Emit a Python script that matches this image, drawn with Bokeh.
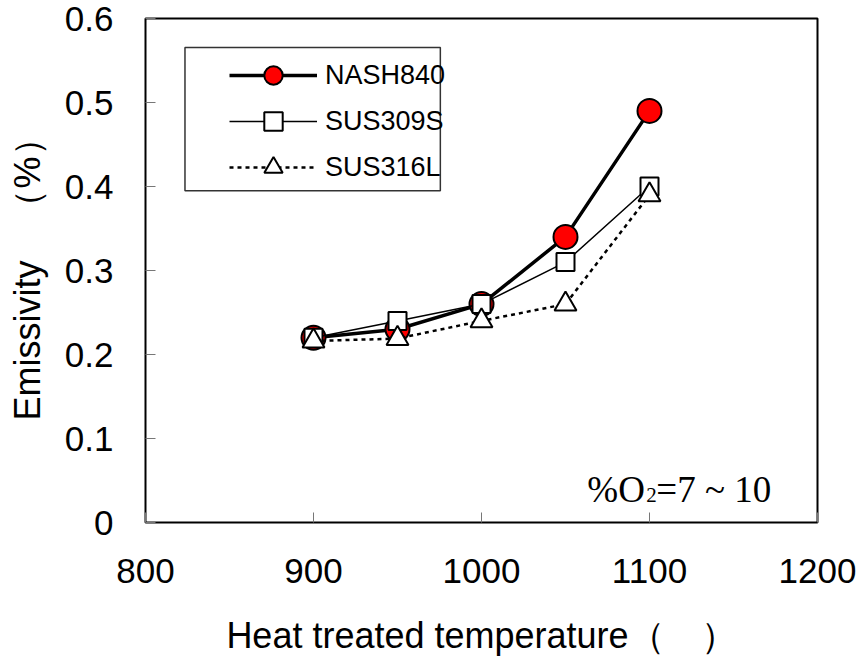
from bokeh.plotting import figure
from bokeh.models import Range1d, FixedTicker, Label, Legend, LegendItem, BoxAnnotation
from bokeh.embed import file_html
from bokeh.resources import INLINE

temps = [900, 950, 1000, 1050, 1100]
nash840 = [0.22, 0.23, 0.26, 0.34, 0.49]
sus309s = [0.22, 0.24, 0.26, 0.31, 0.40]
sus316l = [0.216, 0.219, 0.24, 0.26, 0.39]
x_ticks = [800, 900, 1000, 1100, 1200]
y_ticks = [0, 0.1, 0.2, 0.3, 0.4, 0.5, 0.6]

p = figure(width=861, height=664, output_backend="svg", toolbar_location=None,
           x_range=Range1d(800, 1200), y_range=Range1d(0, 0.6),
           min_border_left=145, min_border_right=44, min_border_top=18, min_border_bottom=142)
p.xgrid.visible = False
p.ygrid.visible = False
p.outline_line_color = "black"
p.outline_line_width = 2
p.background_fill_color = "white"
p.border_fill_color = "white"

for ax in (p.xaxis[0], p.yaxis[0]):
    ax.axis_line_color = None
    ax.major_tick_in = 10
    ax.major_tick_out = 0
    ax.minor_tick_in = 0
    ax.minor_tick_out = 0
    ax.major_tick_line_color = "#777777"
    ax.major_tick_line_width = 1
    ax.major_label_text_font = "Liberation Sans"
    ax.major_label_text_font_size = "35px"
    ax.major_label_text_color = "black"
    ax.axis_label_text_font = "Liberation Sans"
    ax.axis_label_text_font_size = "36px"
    ax.axis_label_text_font_style = "normal"
    ax.axis_label_text_color = "black"

p.xaxis.ticker = FixedTicker(ticks=x_ticks)
p.yaxis.ticker = FixedTicker(ticks=y_ticks)
p.xaxis.major_label_overrides = {t: str(t) for t in x_ticks}
p.yaxis.major_label_overrides = {0: "0", 0.1: "0.1", 0.2: "0.2", 0.3: "0.3", 0.4: "0.4", 0.5: "0.5", 0.6: "0.6"}
p.xaxis.major_label_standoff = 36
p.yaxis.major_label_standoff = 32
p.xaxis.axis_label = "Heat treated temperature（　）"
p.yaxis.axis_label = "Emissivity　（%）"
p.xaxis.axis_label_standoff = 29
p.yaxis.axis_label_standoff = 14

l1 = p.line(temps, sus316l, line_color="black", line_width=2.5, line_dash="4 4")
s1 = p.scatter(temps, sus316l, marker="triangle", size=22, fill_color="white", line_color="black", line_width=2)
l2 = p.line(temps, sus309s, line_color="black", line_width=1.5)
s2 = p.scatter(temps, sus309s, marker="square", size=18, fill_color="white", line_color="black", line_width=2)
l3 = p.line(temps, nash840, line_color="black", line_width=3.5)
s3 = p.scatter(temps, nash840, marker="circle", size=24, fill_color="red", line_color="black", line_width=2)

p.renderers = [l3, s3, l2, s2, l1, s1]

# legend frame
p.add_layout(BoxAnnotation(left=823.5, right=975.5, top=0.5655, bottom=0.395,
                           fill_color="white", fill_alpha=1, line_color="#333333", line_alpha=1,
                           line_width=1.5, level="underlay"))

legend = Legend(items=[
    LegendItem(label="NASH840", renderers=[l3, s3]),
    LegendItem(label="SUS309S", renderers=[l2, s2]),
    LegendItem(label="SUS316L", renderers=[l1, s1]),
], location=(84, 332))
legend.label_text_font = "Liberation Sans"
legend.label_text_font_size = "27px"
legend.label_text_color = "black"
legend.label_text_baseline = "middle"
legend.glyph_width = 88
legend.glyph_height = 46
legend.label_height = 46
legend.label_standoff = 8
legend.spacing = 0
legend.padding = 0
legend.margin = 0
legend.border_line_color = None
legend.background_fill_alpha = 0
p.add_layout(legend, "center")

p.add_layout(Label(x=1063, y=0.0395, text="%O", text_font="Liberation Serif", text_baseline="alphabetic",
                   text_font_size="37px", text_color="black"))
p.add_layout(Label(x=1063, y=0.0395, x_offset=59, y_offset=-6, text="2", text_font="Liberation Serif",
                   text_baseline="alphabetic", text_font_size="21px", text_color="black"))
p.add_layout(Label(x=1063, y=0.0395, x_offset=69, text="=7 ~ 10", text_font="Liberation Serif",
                   text_baseline="alphabetic", text_font_size="37px", text_color="black"))

open("out.html", "w").write(file_html(p, INLINE))
